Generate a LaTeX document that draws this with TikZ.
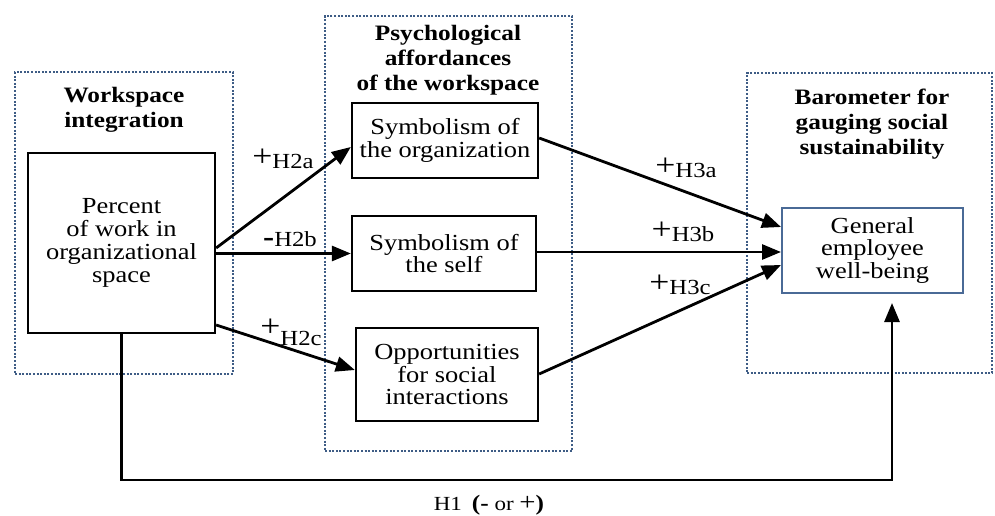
\documentclass[tikz,border=0pt]{standalone}
\usepackage{fontspec}
\setmainfont[FakeStretch=1.15]{Liberation Serif}
\usetikzlibrary{arrows.meta,calc}
\definecolor{dotblue}{HTML}{3E5C85}
\definecolor{genblue}{HTML}{4A6A96}
\newcommand\hplus{\raisebox{2pt}{\fontsize{31}{31}\selectfont +}}
\newcommand\hminus{{\bfseries\fontsize{29}{29}\selectfont -}}
\begin{document}
\begin{tikzpicture}[x=1pt,y=-1pt,
  groupbox/.style={draw=dotblue,line width=2pt,dash pattern=on 2pt off 1.6pt,minimum width=#1},
  varbox/.style={draw=black,line width=2.3pt,align=center,inner sep=0pt,font=\fontsize{23}{22.8}\selectfont},
  grouptitle/.style={align=center,inner sep=0pt,font=\bfseries\fontsize{22}{25}\selectfont},
  link/.style={line width=2.8pt,-{Triangle[length=19pt,width=15pt]}},
  hyp/.style={font=\fontsize{21.5}{24}\selectfont,inner sep=0pt}]
\useasboundingbox (0,0) rectangle (995,516);

% group frames
\node[groupbox=218pt,minimum height=302pt] (g1) at (124,223) {};
\node[groupbox=247pt,minimum height=435pt] (g2) at (448.5,233.5) {};
\node[groupbox=245pt,minimum height=300pt] (g3) at (869.5,223) {};

% group titles
\node[grouptitle] (t1) at (124,110) {Workspace\\integration};
\node[grouptitle] (t2) at (448,60) {Psychological\\affordances\\of the workspace};
\node[grouptitle] (t3) at (872,124) {Barometer for\\gauging social\\sustainability};

% variables
\node[varbox,minimum width=187pt,minimum height=180pt] (pct) at (121.5,243) {Percent\\of work in\\organizational\\space};
\node[varbox,minimum width=186pt,minimum height=75pt] (org) at (445,140.5) {Symbolism of\\the organization};
\node[varbox,minimum width=184pt,minimum height=75pt] (self) at (444,253.5) {Symbolism of\\the self};
\node[varbox,minimum width=182pt,minimum height=93pt] (opp) at (447,374.5) {Opportunities\\for social\\interactions};
\node[varbox,draw=genblue,line width=2pt,minimum width=181pt,minimum height=85pt] (gen) at (872.5,250.5) {General\\employee\\well-being};

% connectors
\draw[link] ([yshift=-5pt]pct.east) -- ([yshift=-6.5pt]org.west);
\draw[link] ([yshift=-10.5pt]pct.east) -- (self.west);
\draw[link] ([yshift=-82pt]pct.east) -- ([yshift=4.5pt]opp.west);
\draw[link] ([yshift=2.5pt]org.east) -- ([yshift=23.5pt]gen.west);
\draw[link] ([yshift=1.5pt]self.east) -- ([yshift=-1.5pt]gen.west);
\draw[link] ([yshift=0.5pt]opp.east) -- ([yshift=-14.5pt]gen.west);
\coordinate (h1low) at (121.5,480);
\coordinate (h1end) at ([xshift=19.5pt,yshift=-9pt]gen.south);
\draw[link] (pct.south) -- (h1low) -| (h1end);

% hypothesis labels
\node[hyp] (l2a) at (283,159) {\hplus H2a};
\node[hyp] (l2b) at (290,239) {\hminus H2b};
\node[hyp] (l2c) at (291,332) {\hplus\raisebox{-7pt}{H2c}};
\node[hyp] (l3a) at (686,168) {\hplus H3a};
\node[hyp] (l3b) at (683,232) {\hplus H3b};
\node[hyp] (l3c) at (680,285) {\hplus H3c};
\node[hyp,anchor=base,font=\fontsize{20}{22}\selectfont] (lh1) at (489,510) {H1\hspace{10pt}{\bfseries\fontsize{22}{22}\selectfont(-} or {\fontsize{25}{25}\selectfont+}{\bfseries\fontsize{22}{22}\selectfont)}};
\end{tikzpicture}
\end{document}
